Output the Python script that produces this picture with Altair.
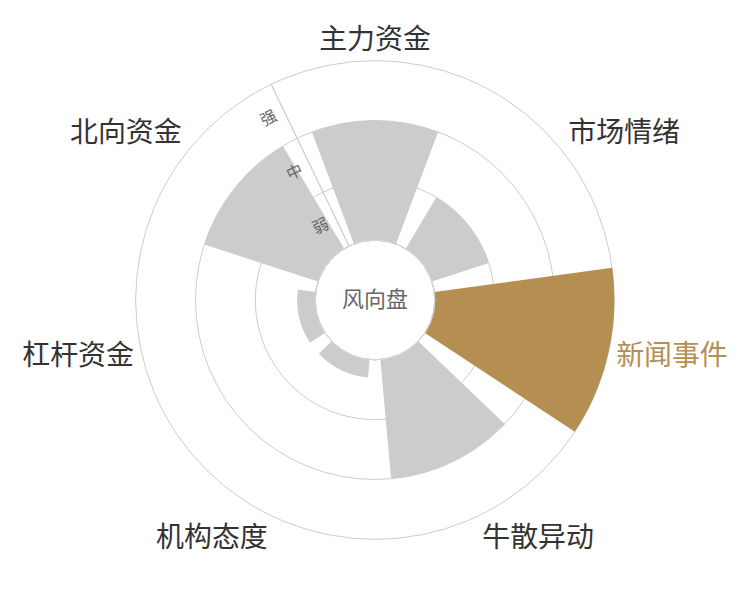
import math
import altair as alt
import pandas as pd

# ---------------- data ----------------
categories = ["主力资金", "市场情绪", "新闻事件", "牛散异动", "机构态度", "杠杆资金", "北向资金"]
values = [2, 1, 3, 2, 0.3, 0.3, 2]
highlight = "新闻事件"
levels = ["弱", "中", "强"]
level_values = [1, 2, 3]
center_title = "风向盘"

# ---------------- styles ----------------
FONT = "Noto Sans CJK SC"
GREY = "#cccccc"
GOLD = "#b58f52"
GRID = "#cccccc"
TEXT = "#333333"

n = len(categories)
max_level = level_values[-1]

bars = pd.DataFrame({"name": categories, "value": values, "idx": list(range(n))})
rings = pd.DataFrame({"level": level_values})
lvl = pd.DataFrame({"label": levels, "level": level_values})

theta_scale = alt.Scale(domain=[0, n])
radius_scale = alt.Scale(type="linear", domain=[0, max_level], range=[60, 240], zero=False)

# grid rings
ring_layer = alt.Chart(rings).mark_arc(fillOpacity=0, stroke=GRID, strokeWidth=1).transform_calculate(
    t0="0", t1=str(n)
).encode(
    theta=alt.Theta("t0:Q", scale=theta_scale, stack=None),
    theta2="t1:Q",
    radius=alt.Radius("level:Q", scale=radius_scale),
)

# radial axis line on the boundary before the first category
axis_layer = alt.Chart(pd.DataFrame({"level": [max_level]})).mark_arc(
    fillOpacity=0, stroke=GRID, strokeWidth=1
).transform_calculate(a="-0.5", base="0").encode(
    theta=alt.Theta("a:Q", scale=theta_scale, stack=None),
    theta2="a:Q",
    radius=alt.Radius("level:Q", scale=radius_scale),
    radius2="base:Q",
)

# bars
bar_layer = alt.Chart(bars).mark_arc(strokeWidth=0).transform_calculate(
    start="datum.idx - 0.4", end="datum.idx + 0.4", base="0"
).encode(
    theta=alt.Theta("start:Q", scale=theta_scale, stack=None),
    theta2="end:Q",
    radius=alt.Radius("value:Q", scale=radius_scale),
    radius2="base:Q",
    color=alt.condition(alt.datum.name == highlight, alt.value(GOLD), alt.value(GREY)),
)

# center hole
hole_layer = alt.Chart(pd.DataFrame({"level": [0]})).mark_arc(
    fill="white", stroke="#d6d6d6", strokeWidth=1
).transform_calculate(t0="0", t1=str(n)).encode(
    theta=alt.Theta("t0:Q", scale=theta_scale, stack=None),
    theta2="t1:Q",
    radius=alt.Radius("level:Q", scale=radius_scale),
)

center_layer = alt.Chart(pd.DataFrame({"t": [center_title]})).mark_text(
    font=FONT, fontSize=22, color="#666666", align="center", baseline="middle"
).encode(
    theta=alt.value(0),
    radius=alt.value(0),
    text="t:N",
)

# level labels along the radial axis
level_layer = alt.Chart(lvl).mark_text(
    font=FONT, fontSize=16, color="#666666", align="center", baseline="middle",
    angle=360 - 180 / n, dx=-17,
).transform_calculate(a="-0.5", mid="datum.level - 0.5").encode(
    theta=alt.Theta("a:Q", scale=theta_scale, stack=None),
    radius=alt.Radius("mid:Q", scale=radius_scale),
    text="label:N",
)

# category labels, aligned by their position around the circle
groups = {}
for i, name in enumerate(categories):
    ang = 2 * math.pi * i / n
    sx, cy = math.sin(ang), math.cos(ang)
    align = "center" if abs(sx) < 0.3 else ("left" if sx > 0 else "right")
    base = "middle" if abs(cy) < 0.3 else ("bottom" if cy > 0 else "top")
    groups.setdefault((align, base), []).append(name)

label_layers = []
for (align, base), names in groups.items():
    label_layers.append(
        alt.Chart(bars).mark_text(
            font=FONT, fontSize=28, align=align, baseline=base, radiusOffset=8, dy=2
        ).transform_filter(
            alt.FieldOneOfPredicate(field="name", oneOf=names)
        ).transform_calculate(top=str(max_level)).encode(
            theta=alt.Theta("idx:Q", scale=theta_scale, stack=None),
            radius=alt.Radius("top:Q", scale=radius_scale),
            text="name:N",
            color=alt.condition(alt.datum.name == highlight, alt.value(GOLD), alt.value(TEXT)),
        )
    )

chart = alt.layer(
    ring_layer, axis_layer, bar_layer, hole_layer, center_layer, level_layer, *label_layers
).properties(
    width=736, height=584, padding=0, autosize="none"
).configure_view(stroke=None)

chart.save("out.html", embed_options={"renderer": "svg", "actions": False})
